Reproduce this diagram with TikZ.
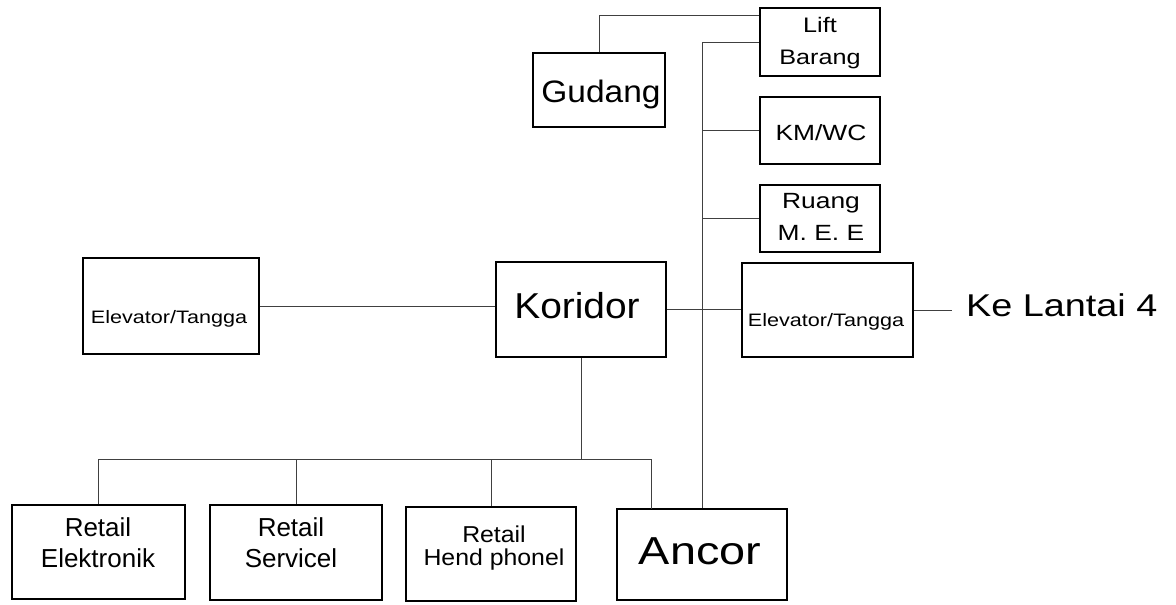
\documentclass[tikz,border=0pt]{standalone}
\usepackage{fontspec}
\setmainfont{Liberation Sans}
\newfontfamily\fA{Liberation Sans}
\newfontfamily\fB[FakeStretch=1.08]{Liberation Sans}
\newfontfamily\fC[FakeStretch=1.2]{Liberation Sans}
\begin{document}
\begin{tikzpicture}[x=1pt,y=-1pt,
  box/.style={draw=black, line width=1.8pt, inner sep=0pt, fill=none},
  conn/.style={draw=black!75, line width=0.8pt},
  txt/.style={inner sep=0pt, align=center, text=black}]
\useasboundingbox (0,0) rectangle (1176,605);
% boxes
\node[box, minimum width=120, minimum height=68] (lift) at (820,42) {};
\node[box, minimum width=132, minimum height=74] (gud) at (599,90) {};
\node[box, minimum width=120, minimum height=67] (km) at (820,130.5) {};
\node[box, minimum width=120, minimum height=67] (ruang) at (820,218.5) {};
\node[box, minimum width=170, minimum height=95] (kor) at (581,309.5) {};
\node[box, minimum width=171, minimum height=94] (rel) at (827.5,310) {};
\node[box, minimum width=176, minimum height=96] (lel) at (171,306) {};
\node[box, minimum width=173, minimum height=94] (re1) at (98.5,552) {};
\node[box, minimum width=172, minimum height=95] (re2) at (296,552.5) {};
\node[box, minimum width=170, minimum height=94] (re3) at (491,554) {};
\node[box, minimum width=170, minimum height=91] (anc) at (702,554.5) {};
% texts
\node[txt, font=\fC\fontsize{21}{32}\selectfont] (tlift) at (820,43) {Lift\\Barang};
\node[txt, font=\fB\fontsize{31}{37}\selectfont] (tgud) at (601,94) {Gudang};
\node[txt, font=\fC\fontsize{22}{26}\selectfont] (tkm) at (821,133) {KM/WC};
\node[txt, font=\fC\fontsize{22}{32}\selectfont] (truang) at (821,216.5) {Ruang\\M. E. E};
\node[txt, font=\fB\fontsize{36}{43}\selectfont] (tkor) at (577,305.5) {Koridor};
\node[txt, font=\fC\fontsize{18}{22}\selectfont] (trel) at (826,322) {Elevator/Tangga};
\node[txt, font=\fC\fontsize{18}{22}\selectfont] (tlel) at (169,319) {Elevator/Tangga};
\node[txt, font=\fA\fontsize{26}{31}\selectfont] (tre1) at (98,543) {Retail\\Elektronik};
\node[txt, font=\fA\fontsize{26}{31}\selectfont] (tre2) at (291,543) {Retail\\Servicel};
\node[txt, font=\fB\fontsize{23}{23}\selectfont] (tre3) at (494,548) {Retail\\Hend phonel};
\node[txt, font=\fC\fontsize{39}{46}\selectfont] (tanc) at (700,551) {Ancor};
\node[txt, anchor=west, font=\fC\fontsize{31.5}{38}\selectfont] (ke) at (966,305) {Ke Lantai 4};
% connectors
\coordinate (bus) at (581,459);
\coordinate (ancdrop) at (651,509);
\draw[conn] (gud.north) |- ([yshift=-8pt]lift.north west);
\draw[conn] (anc.north) |- (lift.west);
\draw[conn] (km.west) -- (km.west -| anc.north);
\draw[conn] (ruang.west) -- (ruang.west -| anc.north);
\draw[conn] (kor.east) -- (kor.east -| rel.west);
\draw[conn] (lel.east) -- (lel.east -| kor.west);
\draw[conn] (rel.east) -- ([xshift=-14pt]rel.east -| ke.west);
\draw[conn] (kor.south) -- (bus);
\draw[conn] (re1.north) |- (bus);
\draw[conn] (re2.north) -- (re2.north |- bus);
\draw[conn] (re3.north) -- (re3.north |- bus);
\draw[conn] (bus) -| (ancdrop);
\end{tikzpicture}
\end{document}
